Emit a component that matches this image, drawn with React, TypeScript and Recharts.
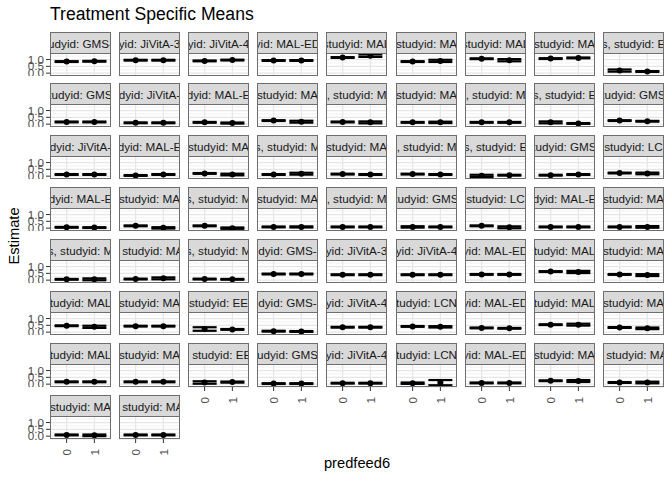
import React from 'react';
import { ComposedChart, Scatter, ErrorBar, XAxis, YAxis, CartesianGrid } from 'recharts';

// ---------------- data ----------------
const predfeed6Levels = ['0', '1'];
const yTicks = [0, 0.5, 1];
const yMinorTicks = [-0.25, 0.25, 0.75, 1.25];
const yDomain: [number, number] = [-0.21, 1.48];

const stripLabels = [
  'udyid: GMS-', 'yid: JiVitA-3', 'yid: JiVitA-4', 'yid: MAL-ED', 'studyid: MAL', 'studyid: MA', 'studyid: MAL', 'studyid: MA', 's, studyid: E',
  'tudyid: GMS', 'dyid: JiVitA-', 'dyid: MAL-E', 'studyid: MA', ', studyid: M', 'studyid: MA', ', studyid: M', 's, studyid: E', 'tudyid: GMS',
  'dyid: JiVitA-', 'dyid: MAL-E', 'studyid: MA', 's, studyid: M', 'studyid: MA', ', studyid: M', 's, studyid: E', 'tudyid: GMS', 'studyid: LC',
  'dyid: MAL-E', 'studyid: MA', 's, studyid: M', 'studyid: MA', ', studyid: M', 'tudyid: GMS', 'studyid: LC', 'dyid: MAL-E', 'studyid: MA',
  's, studyid: M', ', studyid: MA', 's, studyid: M', 'dyid: GMS-', 'yid: JiVitA-3', 'yid: JiVitA-4', 'yid: MAL-ED', 'tudyid: MAL', 'studyid: MA',
  'tudyid: MAL', 'studyid: MA', 'studyid: EE', 'dyid: GMS-', 'yid: JiVitA-4', 'tudyid: LCN', 'yid: MAL-ED', 'tudyid: MAL', 'studyid: MA',
  'tudyid: MAL', 'studyid: MA', ', studyid: EE', 'udyid: GMS', 'yid: JiVitA-4', 'tudyid: LCN', 'yid: MAL-ED', 'studyid: MA', ', studyid: MA',
  'studyid: MA', ', studyid: MA',
];

// estimates for predfeed6 = 0
const est0 = [
  0.85, 0.95, 0.90, 0.93, 1.15, 0.85, 1.06, 1.07, 0.19,
  0.16, 0.10, 0.13, 0.26, 0.16, 0.13, 0.13, 0.13, 0.26,
  0.12, 0.05, 0.20, 0.12, 0.15, 0.15, 0.02, 0.07, 0.23,
  0.06, 0.17, 0.17, 0.09, 0.09, 0.09, 0.17, 0.09, 0.09,
  0.06, 0.08, 0.08, 0.45, 0.40, 0.40, 0.42, 0.63, 0.42,
  0.47, 0.44, 0.23, 0.07, 0.36, 0.42, 0.31, 0.55, 0.34,
  0.17, 0.17, 0.12, 0.04, 0.07, 0.07, 0.09, 0.25, 0.12,
  0.09, 0.09,
];
const lo0 = [
  0.82, 0.92, 0.87, 0.90, 1.12, 0.82, 1.03, 1.04, 0.11,
  0.13, 0.07, 0.10, 0.23, 0.13, 0.10, 0.10, 0.06, 0.23,
  0.09, 0.02, 0.17, 0.09, 0.12, 0.12, -0.06, 0.04, 0.20,
  0.03, 0.14, 0.14, 0.06, 0.06, 0.04, 0.14, 0.06, 0.06,
  0.03, 0.05, 0.05, 0.42, 0.37, 0.37, 0.39, 0.60, 0.39,
  0.44, 0.41, 0.10, 0.04, 0.33, 0.39, 0.28, 0.52, 0.31,
  0.14, 0.14, 0.03, 0.01, 0.04, 0.02, 0.06, 0.22, 0.09,
  0.06, 0.06,
];
const hi0 = [
  0.88, 0.98, 0.93, 0.96, 1.18, 0.88, 1.09, 1.10, 0.27,
  0.19, 0.13, 0.16, 0.29, 0.19, 0.16, 0.16, 0.20, 0.29,
  0.15, 0.08, 0.23, 0.15, 0.18, 0.18, 0.10, 0.10, 0.26,
  0.09, 0.20, 0.20, 0.12, 0.12, 0.14, 0.20, 0.12, 0.12,
  0.09, 0.11, 0.11, 0.48, 0.43, 0.43, 0.45, 0.66, 0.45,
  0.50, 0.47, 0.36, 0.10, 0.39, 0.45, 0.34, 0.58, 0.37,
  0.20, 0.20, 0.21, 0.07, 0.10, 0.12, 0.12, 0.28, 0.15,
  0.12, 0.12,
];

// estimates for predfeed6 = 1
const est1 = [
  0.87, 0.95, 0.96, 0.93, 1.28, 0.90, 0.95, 1.12, 0.12,
  0.16, 0.10, 0.08, 0.18, 0.13, 0.13, 0.13, 0.05, 0.21,
  0.12, 0.12, 0.12, 0.18, 0.12, 0.12, 0.07, 0.12, 0.20,
  0.04, 0.02, 0.00, 0.09, 0.09, 0.09, 0.06, 0.09, 0.09,
  0.06, 0.13, 0.06, 0.45, 0.40, 0.40, 0.42, 0.60, 0.37,
  0.39, 0.44, 0.20, 0.05, 0.36, 0.39, 0.28, 0.55, 0.28,
  0.17, 0.17, 0.15, 0.04, 0.07, 0.12, 0.09, 0.23, 0.12,
  0.06, 0.09,
];
const lo1 = [
  0.84, 0.92, 0.93, 0.90, 1.19, 0.82, 0.87, 1.09, 0.09,
  0.13, 0.07, 0.04, 0.11, 0.06, 0.08, 0.10, 0.02, 0.18,
  0.09, 0.09, 0.06, 0.11, 0.09, 0.09, 0.04, 0.09, 0.14,
  0.01, -0.03, -0.05, 0.05, 0.06, 0.06, -0.01, 0.06, 0.03,
  -0.01, 0.06, 0.03, 0.42, 0.37, 0.37, 0.39, 0.52, 0.30,
  0.31, 0.41, 0.17, 0.02, 0.33, 0.34, 0.25, 0.48, 0.22,
  0.14, 0.14, 0.11, 0.01, 0.04, -0.08, 0.06, 0.16, 0.06,
  0.00, 0.06,
];
const hi1 = [
  0.90, 0.98, 0.99, 0.96, 1.37, 0.98, 1.03, 1.15, 0.15,
  0.19, 0.13, 0.12, 0.25, 0.20, 0.18, 0.16, 0.08, 0.24,
  0.15, 0.15, 0.18, 0.25, 0.15, 0.15, 0.10, 0.15, 0.26,
  0.07, 0.07, 0.05, 0.13, 0.12, 0.12, 0.13, 0.12, 0.15,
  0.13, 0.20, 0.09, 0.48, 0.43, 0.43, 0.45, 0.68, 0.44,
  0.47, 0.47, 0.23, 0.08, 0.39, 0.44, 0.31, 0.62, 0.34,
  0.20, 0.20, 0.19, 0.07, 0.10, 0.30, 0.12, 0.30, 0.18,
  0.12, 0.12,
];

// ---------------- layout / style ----------------
const FONT = '"Liberation Sans", Arial, Helvetica, sans-serif';
const NCOL = 9;
const N = stripLabels.length;
const LEFT0 = 50;
const COL_PITCH = 69.1;
const PANEL_W = 61;
const TOP0 = 31.5;
const ROW_PITCH = 51.9;
const STRIP_H = 22;
const PANEL_H = 23;
const Y_AXIS_W = 30;
const X_AXIS_H = 26;
const BORDER = '#6e6e6e';
const X_DOMAIN: [number, number] = [0.4, 2.6];
// recharts ErrorBar 'width' is the half-length of each cap
const CAP_HALF = 12;

const Dot = (props: any) => {
  const { cx, cy } = props;
  if (cx == null || cy == null) return null;
  return <circle cx={cx} cy={cy} r={3} fill="#000" />;
};

const XTick = (props: any) => {
  const { x, y, payload } = props;
  const label = predfeed6Levels[Math.round(payload.value) - 1];
  return (
    <text
      x={0}
      y={0}
      transform={`translate(${x},${y}) rotate(-90)`}
      textAnchor="end"
      dominantBaseline="central"
      fontSize={11.7}
      fontFamily={FONT}
      fill="#4d4d4d"
    >
      {label}
    </text>
  );
};

function Panel({ i }: { i: number }) {
  const r = Math.floor(i / NCOL);
  const c = i % NCOL;
  const left = Math.round(LEFT0 + c * COL_PITCH);
  const top = Math.round(TOP0 + r * ROW_PITCH);
  const showY = c === 0;
  const showX = i + NCOL >= N;
  const yw = showY ? Y_AXIS_W : 0;
  const xh = showX ? X_AXIS_H : 0;
  const panelTop = top + STRIP_H - 1;
  const data = [
    { x: 1, y: est0[i], err: [est0[i] - lo0[i], hi0[i] - est0[i]] },
    { x: 2, y: est1[i], err: [est1[i] - lo1[i], hi1[i] - est1[i]] },
  ];
  return (
    <>
      <div
        style={{
          position: 'absolute',
          left,
          top,
          width: PANEL_W,
          height: STRIP_H,
          boxSizing: 'border-box',
          border: `1px solid ${BORDER}`,
          background: '#d9d9d9',
          display: 'flex',
          alignItems: 'center',
          justifyContent: 'center',
          overflow: 'hidden',
          whiteSpace: 'nowrap',
          fontSize: 11.7,
          color: '#1a1a1a',
          fontFamily: FONT,
        }}
      >
        <span>{stripLabels[i]}</span>
      </div>
      <div style={{ position: 'absolute', left: left - yw, top: panelTop }}>
        <ComposedChart
          width={PANEL_W + yw}
          height={PANEL_H + xh}
          data={data}
          margin={{ top: 0, right: 0, bottom: 0, left: 0 }}
        >
          <CartesianGrid
            horizontalValues={yMinorTicks}
            vertical={false}
            stroke="#f2f2f2"
            strokeWidth={1}
            fill="#fff"
          />
          <CartesianGrid
            horizontalValues={yTicks}
            verticalValues={[1, 2]}
            stroke="#e6e6e6"
            strokeWidth={1.2}
          />
          <XAxis
            dataKey="x"
            type="number"
            domain={X_DOMAIN}
            ticks={[1, 2]}
            allowDataOverflow
            hide={!showX}
            height={X_AXIS_H}
            axisLine={false}
            tickLine={{ stroke: '#333', strokeWidth: 1 }}
            tickSize={4}
            tickMargin={6}
            tick={<XTick />}
            interval={0}
          />
          <YAxis
            type="number"
            domain={yDomain}
            ticks={yTicks}
            allowDataOverflow
            hide={!showY}
            width={Y_AXIS_W}
            axisLine={false}
            tickLine={{ stroke: '#333', strokeWidth: 1 }}
            tickSize={4}
            tickMargin={2}
            interval={0}
            tickFormatter={(v: number) => v.toFixed(1)}
            tick={{ fontSize: 11.7, fill: '#4d4d4d', fontFamily: FONT }}
          />
          <Scatter dataKey="y" isAnimationActive={false} shape={<Dot />}>
            <ErrorBar
              dataKey="err"
              direction="y"
              width={CAP_HALF}
              stroke="#000"
              strokeWidth={2.2}
              isAnimationActive={false}
            />
          </Scatter>
        </ComposedChart>
      </div>
      <div
        style={{
          position: 'absolute',
          left,
          top: panelTop,
          width: PANEL_W,
          height: PANEL_H,
          boxSizing: 'border-box',
          border: `1px solid ${BORDER}`,
          pointerEvents: 'none',
        }}
      />
    </>
  );
}

export default function App() {
  const idx = stripLabels.map((_, i) => i);
  return (
    <div
      style={{
        position: 'absolute',
        left: 0,
        top: 0,
        width: 672,
        height: 480,
        background: '#fff',
        overflow: 'hidden',
        fontFamily: FONT,
      }}
    >
      <svg width={672} height={480} style={{ position: 'absolute', left: 0, top: 0 }}>
        <text x={50} y={20} fontSize={17.6} fontFamily={FONT} fill="#000">
          Treatment Specific Means
        </text>
        <text
          x={0}
          y={0}
          transform="translate(18.5,236) rotate(-90)"
          textAnchor="middle"
          fontSize={14.7}
          fontFamily={FONT}
          fill="#000"
        >
          Estimate
        </text>
        <text x={357} y={468} textAnchor="middle" fontSize={14.7} fontFamily={FONT} fill="#000">
          predfeed6
        </text>
      </svg>
      {idx.map((i) => (
        <Panel key={i} i={i} />
      ))}
    </div>
  );
}
